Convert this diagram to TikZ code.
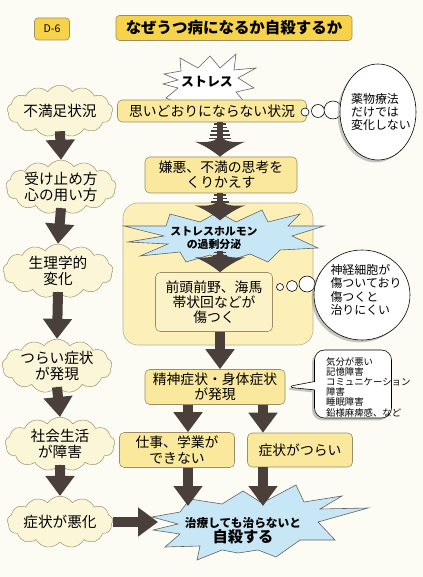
\documentclass[tikz,border=0pt]{standalone}
\usepackage{fontspec}
\setmainfont{Noto Sans CJK JP}
\usetikzlibrary{arrows.meta,calc,shapes.symbols,shapes.geometric,shapes.callouts,shadows}

\definecolor{pagecol}{HTML}{FCFCF5}
\definecolor{goldcol}{HTML}{F6D34A}
\definecolor{edgecol}{HTML}{9C8D66}
\definecolor{boxcol}{HTML}{FAE99C}
\definecolor{panelcol}{HTML}{FCF0B8}
\definecolor{innercol}{HTML}{FBF2C8}
\definecolor{cloudcol}{HTML}{FCF6D8}
\definecolor{skycol}{HTML}{C8E7F6}
\definecolor{arrowcol}{HTML}{4A3F3A}

\newcommand{\boxfont}{\fontsize{11.8pt}{13pt}\selectfont}
\newcommand{\cloudfont}{\fontsize{12.5pt}{13.5pt}\selectfont}
\newcommand{\notefont}{\fontsize{10.2pt}{11.5pt}\selectfont}
\newcommand{\tinyfont}{\fontsize{8pt}{8.7pt}\selectfont}

% ribbed arrow: start, tip, number of ribs
\newcommand{\ribarrow}[3]{%
  \fill[arrowcol] ($(#1)+(-3,0)$) rectangle ($(#2)+(3,-17)$);
  \foreach \k in {1,...,#3}
    \fill[arrowcol] ($(#1)+({-5-1.2*\k},{(\k-1)*3.6+1})$) rectangle ++({10+2.4*\k},1.6);
  \fill[arrowcol,shift={(#2)}] (0,0) .. controls (-6,-5) and (-15,-11) .. (-25,-15)
    .. controls (-14,-14) and (-7,-15) .. (-3,-18) -- (3,-18)
    .. controls (7,-15) and (14,-14) .. (25,-15)
    .. controls (15,-11) and (6,-5) .. (0,0) -- cycle;
}

\begin{document}
\begin{tikzpicture}[x=0.3mm,y=-0.3mm,
  tagbox/.style={draw=edgecol,fill=goldcol,rounded corners=3pt,line width=0.5pt,inner sep=1pt},
  flowbox/.style={draw=edgecol,fill=boxcol,rounded corners=4pt,line width=0.5pt,align=center,font=\boxfont,inner sep=2pt},
  panel/.style={draw=edgecol!70,fill=panelcol,rounded corners=4.5mm,line width=0.5pt},
  puff/.style={cloud,cloud puffs=13,cloud puff arc=110,aspect=2.6,draw=edgecol,fill=cloudcol,line width=0.4pt,align=center,font=\cloudfont,inner sep=0pt},
  burstline/.style={draw=gray!75!black,line width=0.5pt,line join=miter},
  bursttext/.style={align=center,inner sep=0pt},
  thought/.style={ellipse,draw,fill=white,line width=0.5pt,drop shadow={shadow xshift=-2pt,shadow yshift=-2pt,fill=black!45,opacity=0.5}},
  dot/.style={circle,draw,fill=white,line width=0.5pt,inner sep=0pt},
  notecallout/.style={rectangle callout,rounded corners=3mm,draw,fill=white,line width=0.5pt,drop shadow={shadow xshift=-2pt,shadow yshift=-2pt,fill=black!45,opacity=0.5}},
  notetext/.style={align=left,font=\notefont,inner sep=0pt},
  fat/.style={draw=arrowcol,line width=3mm,-{Triangle[width=8.4mm,length=6mm]}}]
\useasboundingbox (0,0) rectangle (423,577);
\fill[pagecol] (0,0) rectangle (423,577);

% ---------- heading ----------
\node[tagbox,minimum width=10.5mm,minimum height=6.6mm,font=\fontsize{9pt}{9pt}\selectfont] (tag) at (52,29) {D-6};
\node[tagbox,minimum width=70.8mm,minimum height=7.5mm,font=\bfseries\fontsize{13.2pt}{14pt}\selectfont] (title) at (234,28) {なぜうつ病になるか自殺するか};

% ---------- left column ----------
\node[puff,minimum width=27.9mm,minimum height=8.4mm] (fuman) at (60,111) {不満足状況};
\node[puff,minimum width=28mm,minimum height=12.6mm] (uketome) at (61,187) {受け止め方\\心の用い方};
\node[puff,minimum width=24mm,minimum height=13.5mm] (seiri) at (58,271) {生理学的\\変化};
\node[puff,minimum width=24mm,minimum height=12.6mm] (hatsugen) at (57,366) {つらい症状\\が発現};
\node[puff,minimum width=25.5mm,minimum height=12.9mm] (shakai) at (60,444) {社会生活\\が障害};
\node[puff,minimum width=27mm,minimum height=11.1mm] (akka) at (60,522) {症状が悪化};

% ---------- centre column ----------
\filldraw[burstline,fill=white] (164,74) -- (181,71) -- (180,58) -- (198,68) -- (210,56) -- (220,68)
  -- (236,54) -- (234,70) -- (256,68) -- (238,78) -- (254,88) -- (236,92) -- (246,104)
  -- (180,104) -- (166,98) -- (178,88) -- (163,84) -- (178,80) -- cycle;
\node[bursttext,font=\bfseries\fontsize{11pt}{12pt}\selectfont] (stress) at (207,82) {ストレス};
\node[flowbox,minimum width=56.7mm,minimum height=6.6mm] (omoi) at (212,111) {思いどおりにならない状況};
\node[flowbox,minimum width=45.6mm,minimum height=10.8mm] (kenno) at (221,175) {嫌悪、不満の思考を\\くりかえす};
\node[panel,minimum width=57mm,minimum height=42.6mm] (brain) at (218,274) {};
\filldraw[burstline,fill=skycol] (124,226) -- (166,226) -- (170,214) -- (200,222) -- (218,212)
  -- (236,222) -- (262,210) -- (268,222) -- (300,214) -- (288,226) -- (324,226) -- (292,236)
  -- (318,248) -- (280,250) -- (268,262) -- (250,254) -- (225,262) -- (210,255) -- (186,262)
  -- (180,252) -- (140,256) -- (168,244) -- (128,242) -- (164,236) -- cycle;
\node[bursttext,font=\bfseries\fontsize{9.3pt}{11pt}\selectfont] (hormone) at (214,238) {ストレスホルモン\\の過剰分泌};
\node[flowbox,fill=innercol,minimum width=35.1mm,minimum height=17.7mm] (zento) at (214,302) {前頭前野、海馬\\帯状回などが\\傷つく};
\node[flowbox,minimum width=42mm,minimum height=10.5mm] (seishin) at (215,387) {精神症状・身体症状\\が発現};
\node[flowbox,minimum width=34.5mm,minimum height=10.5mm] (shigoto) at (177,450) {仕事、学業が\\できない};
\node[flowbox,minimum width=31.5mm,minimum height=10.2mm] (tsurai) at (300,450) {症状がつらい};
\filldraw[burstline,fill=skycol] (152,517) -- (180,512) -- (190,499) -- (222,504) -- (243,491)
  -- (262,503) -- (296,485) -- (304,502) -- (342,496) -- (320,509) -- (368,508) -- (318,522)
  -- (335,540) -- (300,540) -- (276,557) -- (258,550) -- (238,553) -- (222,550) -- (197,560)
  -- (200,546) -- (165,547) -- (180,534) -- (153,530) -- (178,524) -- cycle;
\node[bursttext] (jisatsu) at (243,531) {{\bfseries\fontsize{10pt}{12pt}\selectfont 治療しても治らないと}\\{\bfseries\fontsize{13pt}{15pt}\selectfont 自殺する}};

% ---------- thoughts ----------
\node[dot,minimum size=2.4mm] (yaku1) at (305,112) {};
\node[dot,minimum size=3.9mm] (yaku2) at (318,111) {};
\node[dot,minimum size=5.4mm] (yaku3) at (333,110) {};
\node[thought,minimum width=22.8mm,minimum height=28.8mm] (yaku) at (378,112) {};
\node[notetext] (yakutxt) at (381,112) {薬物療法\\だけでは\\変化しない};

\node[dot,minimum size=2.1mm] (shinkei1) at (280,287) {};
\node[dot,minimum size=3.3mm] (shinkei2) at (292,286) {};
\node[dot,minimum size=4.8mm] (shinkei3) at (307,284) {};
\node[thought,minimum width=28.8mm,minimum height=27mm] (shinkei) at (362,295) {};
\node[notetext] (shinkeitxt) at (366,290) {神経細胞が\\傷ついており\\傷つくと\\治りにくい};

\node[notecallout,minimum width=23.1mm,minimum height=20.4mm,callout absolute pointer={(seishin.east)}] (kibun) at (353,384) {};
\node[anchor=west,align=left,font=\tinyfont,inner sep=0pt] (kibuntxt) at (326,387) {気分が悪い\\記憶障害\\コミュニケーション\\障害\\睡眠障害\\鉛様麻痺感、など};

% ---------- arrows ----------
\foreach \a/\b in {fuman/uketome,uketome/seiri,seiri/hatsugen,hatsugen/shakai,shakai/akka}
  \draw[fat] (\a.south) -- (\b.north);
\coordinate (burstleft) at (158,0);
\draw[fat] (akka.east) -- (akka.east -| burstleft);

\coordinate (spine) at (220,0);
\coordinate (omoifoot) at (omoi.south -| spine);
\coordinate (kennohead) at (kenno.north -| spine);
\coordinate (kennofoot) at (kenno.south -| spine);
\coordinate (hormonetop) at ($(hormone.north -| spine)+(0,-6)$);
\coordinate (hormonebot) at ($(hormone.south -| spine)+(0,1)$);
\coordinate (zentohead) at (zento.north -| spine);
\ribarrow{omoifoot}{kennohead}{5}
\ribarrow{kennofoot}{hormonetop}{4}
\ribarrow{hormonebot}{zentohead}{3}
\draw[fat] (zento.south -| spine) -- (seishin.north -| spine);

\coordinate (laneL) at (188,0);
\coordinate (laneR) at (263,0);
\coordinate (burstrim) at (0,506);
\draw[fat] (seishin.south -| laneL) -- (shigoto.north -| laneL);
\draw[fat] (seishin.south -| laneR) -- (tsurai.north -| laneR);
\draw[fat] (shigoto.south -| laneL) -- (burstrim -| laneL);
\draw[fat] (tsurai.south -| laneR) -- (burstrim -| laneR);
\end{tikzpicture}
\end{document}
